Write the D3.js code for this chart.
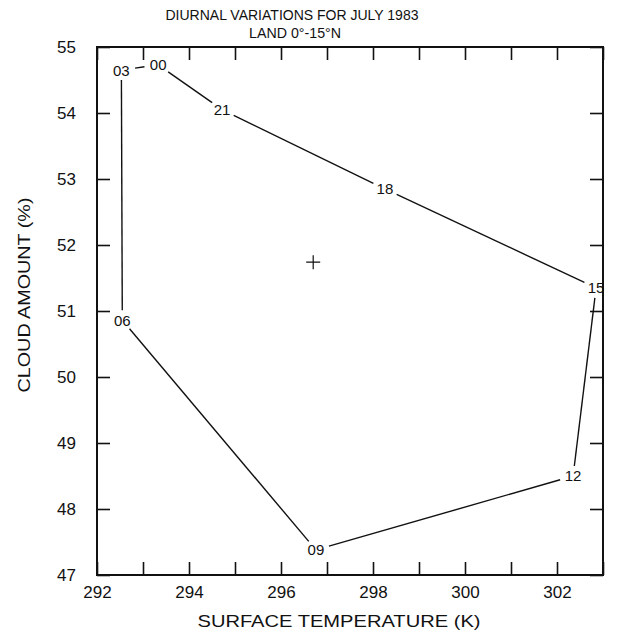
<!DOCTYPE html>
<html>
<head>
<meta charset="utf-8">
<script src="https://cdn.jsdelivr.net/npm/d3@7"></script>
<style>
body { margin: 0; background: #fff; }
svg text { font-family: "Liberation Sans", Arial, sans-serif; fill: #111; }
</style>
</head>
<body>
<div id="chart"></div>
<script>
// hour labels, in the order the loop is drawn
var hours = ["00", "03", "06", "09", "12", "15", "18", "21"];
var temp = [293.33, 292.53, 292.55, 296.76, 302.35, 302.85, 298.26, 294.72];
var cloud = [54.73, 54.65, 50.86, 47.38, 48.50, 51.35, 52.85, 54.05];
// daily mean, drawn as a cross
var meanTemp = [296.70];
var meanCloud = [51.74];

var xTicks = [292, 293, 294, 295, 296, 297, 298, 299, 300, 301, 302, 303];
var xLabels = [292, 294, 296, 298, 300, 302];
var yTicks = [47, 48, 49, 50, 51, 52, 53, 54, 55];

var margin = {top: 47, right: 17, bottom: 60, left: 97};
var W = 620, H = 635;
var w = W - margin.left - margin.right;
var h = H - margin.top - margin.bottom;

var x = d3.scaleLinear().domain([292, 303]).range([0, w]);
var y = d3.scaleLinear().domain([47, 55]).range([h, 0]);

var svg = d3.select("#chart").append("svg")
	.attr("width", W)
	.attr("height", H);

var g = svg.append("g")
	.attr("transform", "translate(" + margin.left + "," + margin.top + ")");

// titles
svg.append("text")
	.attr("x", 292).attr("y", 20)
	.attr("text-anchor", "middle")
	.style("font-size", "14px")
	.attr("textLength", 253).attr("lengthAdjust", "spacingAndGlyphs")
	.text("DIURNAL VARIATIONS FOR JULY 1983");
svg.append("text")
	.attr("x", 295).attr("y", 38)
	.attr("text-anchor", "middle")
	.style("font-size", "14px")
	.attr("textLength", 92).attr("lengthAdjust", "spacingAndGlyphs")
	.text("LAND 0°-15°N");

// axes, ticks pointing inward
var tickLen = 13;
function fmtX(d) { return xLabels.indexOf(d) >= 0 ? d : ""; }

var xAxis = d3.axisBottom(x).tickValues(xTicks).tickSize(-tickLen).tickPadding(11).tickFormat(fmtX);
var xAxisTop = d3.axisTop(x).tickValues(xTicks).tickSize(-tickLen).tickFormat("");
var yAxis = d3.axisLeft(y).tickValues(yTicks).tickSize(-tickLen).tickPadding(21).tickFormat(d3.format("d"));
var yAxisRight = d3.axisRight(y).tickValues(yTicks).tickSize(-tickLen).tickFormat("");

g.append("g").attr("class", "axis").attr("transform", "translate(0," + h + ")").call(xAxis);
g.append("g").attr("class", "axis").call(xAxisTop);
g.append("g").attr("class", "axis").call(yAxis);
g.append("g").attr("class", "axis").attr("transform", "translate(" + w + ",0)").call(yAxisRight);

g.selectAll(".axis .domain").remove();
g.selectAll(".axis line").attr("stroke", "#111").attr("stroke-width", 1.6);
g.selectAll(".axis text").style("font-size", "17px").attr("fill", "#111")
	.style("font-family", "'Liberation Sans', Arial, sans-serif");

// frame
g.append("rect")
	.attr("x", 0).attr("y", 0)
	.attr("width", w).attr("height", h)
	.attr("fill", "none")
	.attr("stroke", "#111")
	.attr("stroke-width", 2);

// loop segments, with a gap round each label
var pts = hours.map(function(d, i) { return {hr: d, px: x(temp[i]), py: y(cloud[i])}; });
var rx = 14, ry = 10;
function gap(dx, dy) { return 1 / Math.sqrt((dx / rx) * (dx / rx) + (dy / ry) * (dy / ry)); }

var segs = pts.map(function(p, i) {
	var q = pts[(i + 1) % pts.length];
	var dx = q.px - p.px, dy = q.py - p.py;
	var len = Math.sqrt(dx * dx + dy * dy);
	var ux = dx / len, uy = dy / len;
	var t = gap(ux, uy);
	return {x1: p.px + ux * t, y1: p.py + uy * t, x2: q.px - ux * t, y2: q.py - uy * t};
});

g.selectAll(".seg")
	.data(segs)
	.enter().append("line")
	.attr("class", "seg")
	.attr("x1", function(d) { return d.x1; })
	.attr("y1", function(d) { return d.y1; })
	.attr("x2", function(d) { return d.x2; })
	.attr("y2", function(d) { return d.y2; })
	.attr("stroke", "#111")
	.attr("stroke-width", 1.4);

g.selectAll(".hr")
	.data(pts)
	.enter().append("text")
	.attr("class", "hr")
	.attr("x", function(d) { return d.px; })
	.attr("y", function(d) { return d.py; })
	.attr("dy", "0.36em")
	.attr("text-anchor", "middle")
	.style("font-size", "15px")
	.text(function(d) { return d.hr; });

// mean cross
var mx = x(meanTemp[0]), my = y(meanCloud[0]);
g.append("path")
	.attr("d", "M" + (mx - 7) + "," + my + "H" + (mx + 7) + "M" + mx + "," + (my - 7) + "V" + (my + 7))
	.attr("stroke", "#111")
	.attr("stroke-width", 1.2);

// axis titles
svg.append("text")
	.attr("x", 339).attr("y", 627)
	.attr("text-anchor", "middle")
	.style("font-size", "17px")
	.attr("textLength", 283).attr("lengthAdjust", "spacingAndGlyphs")
	.text("SURFACE TEMPERATURE (K)");
svg.append("text")
	.attr("transform", "translate(30,295) rotate(-90)")
	.attr("text-anchor", "middle")
	.style("font-size", "17px")
	.attr("textLength", 195).attr("lengthAdjust", "spacingAndGlyphs")
	.text("CLOUD AMOUNT (%)");
</script>
</body>
</html>
